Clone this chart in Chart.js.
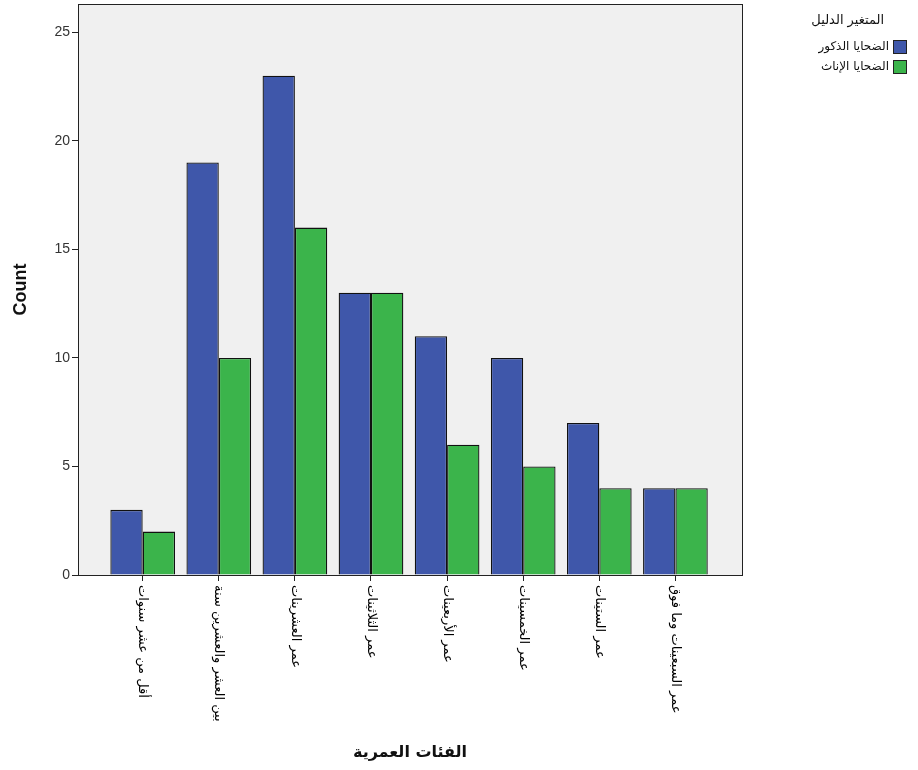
<!DOCTYPE html>
<html>
<head>
<meta charset="utf-8">
<script src="https://cdn.jsdelivr.net/npm/chart.js@4.4.0/dist/chart.umd.min.js"></script>
<style>
  html, body { margin: 0; padding: 0; background: #fff; }
  #wrap { width: 918px; height: 770px; position: relative; }
</style>
</head>
<body>
<div id="wrap"><canvas id="miGrafico" width="918" height="770"></canvas></div>
<script>
// datos
const categorias = [
    'أقل من عشر سنوات',
    'بين العشر والعشرين سنة',
    'عمر العشرينات',
    'عمر الثلاثينات',
    'عمر الأربعينات',
    'عمر الخمسينات',
    'عمر الستينات',
    'عمر السبعينات وما فوق'
];
const ducos = [3, 19, 23, 13, 11, 10, 7, 4];      // الضحايا الذكور
const inath = [2, 10, 16, 13, 6, 5, 4, 4];        // الضحايا الإناث
const nombresSeries = ['الضحايا الذكور', 'الضحايا الإناث'];
const tituloLeyenda = 'المتغير الدليل';
const ticksY = [0, 5, 10, 15, 20, 25];

const azul = '#3f57aa';
const verde = '#3bb44b';

const fondoPlot = {
    id: 'fondoPlot',
    beforeDraw(chart) {
        const {ctx, chartArea: a} = chart;
        ctx.save();
        ctx.fillStyle = '#f0f0f0';
        ctx.fillRect(a.left, a.top, a.right - a.left, a.bottom - a.top);
        ctx.restore();
    },
    afterDatasetsDraw(chart) {
        const {ctx, chartArea: a} = chart;
        ctx.save();
        ctx.strokeStyle = '#222';
        ctx.lineWidth = 1;
        ctx.strokeRect(Math.round(a.left) + 0.5, Math.round(a.top) + 0.5,
            Math.round(a.right - a.left), Math.round(a.bottom - a.top));
        ctx.restore();
    }
};

// etiquetas del eje x giradas 90 grados (se leen de arriba a abajo)
const etiquetasX = {
    id: 'etiquetasX',
    afterDraw(chart) {
        const {ctx, chartArea: a} = chart;
        const x = chart.scales.x;
        ctx.save();
        ctx.font = '13px "DejaVu Sans"';
        ctx.fillStyle = '#000';
        ctx.textAlign = 'left';
        ctx.textBaseline = 'middle';
        categorias.forEach((c, i) => {
            const px = x.getPixelForValue(i);
            ctx.save();
            ctx.translate(px, a.bottom + 10);
            ctx.rotate(Math.PI / 2);
            ctx.fillText(c, 0, 0);
            ctx.restore();
        });
        ctx.restore();
    }
};

const leyenda = {
    id: 'leyenda',
    afterDraw(chart) {
        const {ctx} = chart;
        ctx.save();
        ctx.fillStyle = '#111';
        ctx.font = '13px "DejaVu Sans"';
        ctx.textAlign = 'right';
        ctx.textBaseline = 'middle';
        ctx.fillText(tituloLeyenda, 884, 21);
        chart.data.datasets.forEach((ds, i) => {
            const y = 47 + i * 20;
            ctx.fillStyle = ds.backgroundColor;
            ctx.fillRect(893, y - 7, 14, 14);
            ctx.strokeStyle = '#222';
            ctx.lineWidth = 1;
            ctx.strokeRect(893.5, y - 6.5, 13, 13);
            ctx.fillStyle = '#111';
            ctx.font = '12px "DejaVu Sans"';
            ctx.fillText(ds.label, 889, y);
        });
        ctx.restore();
    }
};

const ctx = document.getElementById('miGrafico').getContext('2d');
const miGrafico = new Chart(ctx, {
    type: 'bar',
    data: {
        datasets: [{
            label: nombresSeries[0],
            data: ducos.map((v, i) => ({x: i, y: v})),
            backgroundColor: azul,
            borderColor: '#111',
            borderWidth: 1.3
        }, {
            label: nombresSeries[1],
            data: inath.map((v, i) => ({x: i, y: v})),
            backgroundColor: verde,
            borderColor: '#111',
            borderWidth: 1.3
        }]
    },
    options: {
        responsive: false,
        animation: false,
        layout: { padding: { top: 4, right: 176, left: 0, bottom: 0 } },
        datasets: { bar: { categoryPercentage: 0.85, barPercentage: 1 } },
        plugins: {
            legend: { display: false },
            tooltip: { enabled: false }
        },
        scales: {
            x: {
                type: 'linear',
                offset: false,
                min: -0.85,
                max: 7.875,
                afterBuildTicks: (s) => { s.ticks = categorias.map((c, i) => ({value: i})); },
                afterFit: (s) => { s.height = 195; s.paddingLeft = 0; s.paddingRight = 0; },
                ticks: { callback: () => '', padding: 0 },
                grid: { offset: false, drawOnChartArea: false, tickLength: 6, color: '#222' },
                border: { color: '#222' },
                title: {
                    display: true,
                    text: 'الفئات العمرية',
                    font: { family: 'DejaVu Sans', size: 16, weight: 'bold' },
                    color: '#111',
                    padding: { top: 0, bottom: 8 }
                }
            },
            y: {
                min: 0,
                max: 26.3,
                afterBuildTicks: (s) => { s.ticks = ticksY.map(v => ({value: v})); },
                afterFit: (s) => { s.width = 78; s.paddingTop = 0; s.paddingBottom = 0; },
                ticks: {
                    font: { family: 'Liberation Sans', size: 14 },
                    color: '#333',
                    padding: 2
                },
                grid: { drawOnChartArea: false, tickLength: 6, color: '#222' },
                border: { color: '#222' },
                title: {
                    display: true,
                    text: 'Count',
                    font: { family: 'Liberation Sans', size: 18, weight: 'bold' },
                    color: '#111',
                    padding: { top: 10, bottom: 0 }
                }
            }
        }
    },
    plugins: [fondoPlot, etiquetasX, leyenda]
});
</script>
</body>
</html>
